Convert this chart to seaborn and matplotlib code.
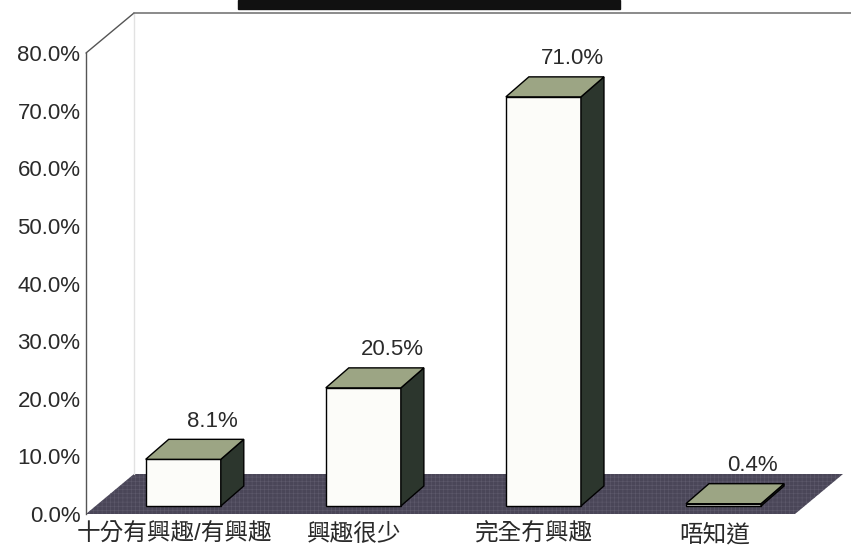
import numpy as np
import pandas as pd
import matplotlib
matplotlib.use("Agg")
import matplotlib.pyplot as plt
from matplotlib.patches import Polygon, Rectangle
import seaborn as sns

# data
categories = ["十分有興趣/有興趣", "興趣很少", "完全冇興趣", "唔知道"]
values = [8.1, 20.5, 71.0, 0.4]
y_ticks = [0, 10, 20, 30, 40, 50, 60, 70, 80]

FRONT_COLOR = "#fcfcf9"
TOP_COLOR = "#9ca584"
SIDE_COLOR = "#2c362d"
FLOOR_COLOR = "#4a4658"
TEXT_COLOR = "#2a2a2a"

sns.set_style("white")
plt.rcParams["font.family"] = ["Liberation Sans", "Noto Sans CJK TC", "DejaVu Sans"]
plt.rcParams["hatch.linewidth"] = 0.4

W, H = 851, 549
fig = plt.figure(figsize=(W / 100, H / 100), dpi=100)
ax = fig.add_axes([86 / W, 1 - 514 / H, (795 - 86) / W, (514 - 53) / H])

df = pd.DataFrame({"cat": categories, "val": values})
sns.barplot(data=df, x="cat", y="val", color=FRONT_COLOR, saturation=1,
            edgecolor="black", linewidth=1.0, width=0.417, ax=ax, zorder=3)

xlim = (-0.49, 3.447)
ax.set_xlim(*xlim)
ax.set_ylim(0, 80)

# pixel -> data units
ux = (xlim[1] - xlim[0]) / (795 - 86)
uy = 80 / (514 - 53)

# depth vectors in pixels (x right, y up)
floor_d = (48, 40)
front_d = (9, 8)
bar_d = (23, 20)

# floor
fl = [(xlim[0], 0), (xlim[1], 0),
      (xlim[1] + floor_d[0] * ux, floor_d[1] * uy),
      (xlim[0] + floor_d[0] * ux, floor_d[1] * uy)]
ax.add_patch(Polygon(fl, closed=True, facecolor=FLOOR_COLOR, edgecolor="#5e5a6c",
                     lw=0, hatch="++++", zorder=1, clip_on=False))

# back wall outline
bx0 = xlim[0] + floor_d[0] * ux
ax.plot([xlim[0], bx0], [80, 80 + floor_d[1] * uy], color="#555555", lw=1,
        clip_on=False, zorder=2)
ax.plot([bx0, xlim[0] + (W - 86) * ux], [80 + floor_d[1] * uy] * 2,
        color="#777777", lw=1.2, clip_on=False, zorder=2)
ax.plot([bx0, bx0], [floor_d[1] * uy, 80 + floor_d[1] * uy], color="#e2e2e2",
        lw=1, clip_on=False, zorder=1)

# make bars 3d
for p, v in zip(ax.patches[:len(values)], values):
    x0 = p.get_x() + front_d[0] * ux
    y0 = front_d[1] * uy
    w = p.get_width()
    h = p.get_height()
    p.set_x(x0)
    p.set_y(y0)
    dx, dy = bar_d[0] * ux, bar_d[1] * uy
    top = [(x0, y0 + h), (x0 + w, y0 + h), (x0 + w + dx, y0 + h + dy), (x0 + dx, y0 + h + dy)]
    side = [(x0 + w, y0), (x0 + w + dx, y0 + dy), (x0 + w + dx, y0 + h + dy), (x0 + w, y0 + h)]
    ax.add_patch(Polygon(side, closed=True, facecolor=SIDE_COLOR, edgecolor="black",
                         lw=1.0, zorder=3))
    ax.add_patch(Polygon(top, closed=True, facecolor=TOP_COLOR, edgecolor="black",
                         lw=1.0, zorder=3))
    ax.annotate(f"{v:.1f}%", xy=(x0 + w / 2 + dx + 6 * ux, y0 + h + dy),
                xytext=(0, 18), textcoords="offset pixels", ha="center",
                va="center", fontsize=16, color=TEXT_COLOR, zorder=4)

# axes styling
for s in ["top", "right", "bottom"]:
    ax.spines[s].set_visible(False)
ax.spines["left"].set_color("#555555")
ax.spines["left"].set_linewidth(1)
ax.set_yticks(y_ticks)
ax.set_yticklabels([f"{t:.1f}%" for t in y_ticks], fontsize=16, color=TEXT_COLOR)
ax.tick_params(axis="y", direction="in", length=5, width=1, color="#777777", pad=4)
ax.tick_params(axis="x", length=0, pad=7, labelsize=17, labelcolor=TEXT_COLOR)
ax.set_xlabel("")
ax.set_ylabel("")
ax.patch.set_alpha(0)

# cropped title block at the very top
fig.add_artist(Rectangle((238 / W, 1 - 9 / H), (620 - 238) / W, 9 / H,
                         transform=fig.transFigure, color="#111111"))

fig.savefig("out.png", dpi=100)
